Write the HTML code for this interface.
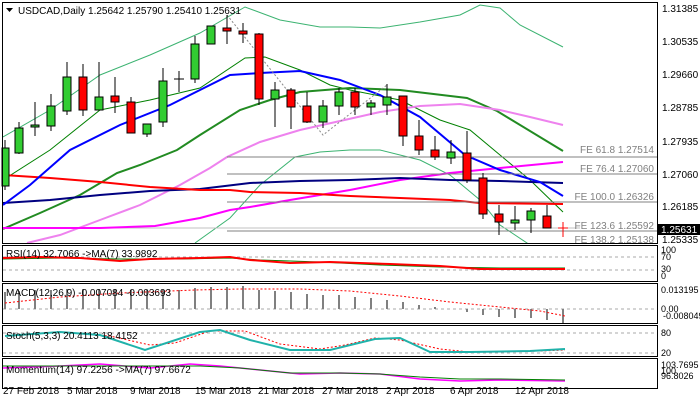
<!DOCTYPE html><html><head><meta charset="utf-8"><style>body{margin:0;background:#fff}svg{display:block;font-family:"Liberation Sans",sans-serif;font-size:10px}</style></head><body>
<svg width="700" height="400" viewBox="0 0 700 400" xmlns="http://www.w3.org/2000/svg">
<rect width="700" height="400" fill="#fff"/>
<defs><clipPath id="m"><rect x="3" y="3" width="654" height="240"/></clipPath></defs>
<g clip-path="url(#m)" fill="none">
<polyline stroke="#3cb371" stroke-width="1" points="3,137 50,110 100,75 150,55 200,33 245,7 280,20 320,27 350,27 380,28 420,22 460,15 480,5 500,8 520,25 563,47"/>
<polyline stroke="#008000" stroke-width="1" points="3,180 50,150 100,110 150,100 200,88 245,58 265,57 300,70 330,85 350,90 400,100 440,120 470,130 500,155 530,180 563,212"/>
<polyline stroke="#3cb371" stroke-width="1" points="195,243 230,218 260,185 295,157 320,152 350,150 380,150 420,160 450,175 480,200 500,225 530,245"/>
<line x1="60" y1="228" x2="580" y2="228" stroke="#c0c0c0"/>
<polyline stroke="#228b22" stroke-width="2" points="3,229 40,213 80,195 117,173 140,165 177,150 200,135 240,110 270,100 300,92 350,88 400,90 467,98 497,111 563,151"/>
<polyline stroke="#ee82ee" stroke-width="2" points="27,243 60,235 100,220 140,205 180,185 210,168 227,157 260,142 300,130 340,121 380,112 420,106 460,104 500,110 530,117 563,125"/>
<polyline stroke="#ff00ff" stroke-width="2" points="3,228 100,228 155,226 200,218 230,210 250,207 290,200 350,190 400,180 450,173 500,168 563,162"/>
<polyline stroke="#000080" stroke-width="2" points="3,203 50,200 100,195 150,191 200,189 250,183 300,181 350,180 400,178 450,180 500,181 563,183"/>
<polyline stroke="#ff0000" stroke-width="2" points="3,175 50,178 100,182 150,187 200,190 230,190 250,192 300,193 350,196 400,198 450,200 480,203 563,204"/>
<polyline stroke="#0000ff" stroke-width="2" points="3,205 30,185 70,150 120,125 170,105 230,75 260,73 300,71 340,80 380,95 420,117 465,155 500,170 540,182 563,196"/>
<polyline stroke="#888" stroke-dasharray="2,2" points="227,15 323,135 387,85"/>
<g stroke="#808080"><line x1="227" y1="157" x2="657" y2="157"/><line x1="227" y1="174" x2="657" y2="174"/><line x1="227" y1="202" x2="657" y2="202"/><line x1="227" y1="231" x2="657" y2="231"/></g>
</g>
<g fill="#808080" text-anchor="end"><text x="654" y="153">FE 61.8 1.27514</text><text x="654" y="172">FE 76.4 1.27060</text><text x="654" y="200">FE 100.0 1.26326</text><text x="654" y="229">FE 123.6 1.25592</text><text x="654" y="243">FE 138.2 1.25138</text></g>
<g stroke="#000" stroke-width="1">
<line x1="5" y1="140" x2="5" y2="190"/><rect x="2" y="148" width="7" height="38" fill="#32cd32"/>
<line x1="19" y1="122" x2="19" y2="154"/><rect x="15" y="128" width="8" height="25" fill="#32cd32"/>
<line x1="35" y1="102" x2="35" y2="136"/><rect x="31" y="125" width="8" height="2" fill="#32cd32"/>
<line x1="51" y1="94" x2="51" y2="131"/><rect x="47" y="106" width="8" height="20" fill="#32cd32"/>
<line x1="67" y1="62" x2="67" y2="115"/><rect x="63" y="77" width="8" height="34" fill="#32cd32"/>
<line x1="83" y1="64" x2="83" y2="116"/><rect x="79" y="77" width="8" height="33" fill="#ff0000"/>
<line x1="99" y1="62" x2="99" y2="110"/><rect x="95" y="97" width="8" height="13" fill="#32cd32"/>
<line x1="115" y1="77" x2="115" y2="113"/><rect x="111" y="96" width="8" height="6" fill="#ff0000"/>
<line x1="131" y1="97" x2="131" y2="133"/><rect x="127" y="102" width="8" height="31" fill="#ff0000"/>
<line x1="147" y1="124" x2="147" y2="137"/><rect x="143" y="124" width="8" height="10" fill="#32cd32"/>
<line x1="163" y1="68" x2="163" y2="127"/><rect x="159" y="81" width="8" height="41" fill="#32cd32"/>
<line x1="179" y1="71" x2="179" y2="92"/><line x1="174" y1="79" x2="184" y2="79"/>
<line x1="195" y1="36" x2="195" y2="83"/><rect x="191" y="44" width="8" height="35" fill="#32cd32"/>
<line x1="211" y1="26" x2="211" y2="44"/><rect x="207" y="26" width="8" height="18" fill="#32cd32"/>
<line x1="227" y1="15" x2="227" y2="44"/><rect x="223" y="28" width="8" height="3" fill="#ff0000"/>
<line x1="243" y1="23" x2="243" y2="43"/><rect x="239" y="31" width="8" height="3" fill="#ff0000"/>
<line x1="259" y1="33" x2="259" y2="105"/><rect x="255" y="34" width="8" height="65" fill="#ff0000"/>
<line x1="275" y1="82" x2="275" y2="127"/><rect x="271" y="90" width="8" height="9" fill="#32cd32"/>
<line x1="291" y1="88" x2="291" y2="129"/><rect x="287" y="90" width="8" height="17" fill="#ff0000"/>
<line x1="307" y1="92" x2="307" y2="123"/><rect x="303" y="106" width="8" height="16" fill="#ff0000"/>
<line x1="323" y1="100" x2="323" y2="128"/><rect x="319" y="106" width="8" height="16" fill="#32cd32"/>
<line x1="339" y1="88" x2="339" y2="115"/><rect x="335" y="92" width="8" height="14" fill="#32cd32"/>
<line x1="355" y1="88" x2="355" y2="115"/><rect x="351" y="92" width="8" height="15" fill="#ff0000"/>
<line x1="371" y1="100" x2="371" y2="115"/><rect x="367" y="103" width="8" height="4" fill="#32cd32"/>
<line x1="387" y1="84" x2="387" y2="115"/><rect x="383" y="97" width="8" height="8" fill="#32cd32"/>
<line x1="403" y1="96" x2="403" y2="146"/><rect x="399" y="96" width="8" height="40" fill="#ff0000"/>
<line x1="419" y1="120" x2="419" y2="155"/><rect x="415" y="136" width="8" height="14" fill="#ff0000"/>
<line x1="435" y1="136" x2="435" y2="160"/><rect x="431" y="150" width="8" height="7" fill="#ff0000"/>
<line x1="451" y1="140" x2="451" y2="164"/><rect x="447" y="152" width="8" height="6" fill="#32cd32"/>
<line x1="467" y1="131" x2="467" y2="183"/><rect x="463" y="153" width="8" height="27" fill="#ff0000"/>
<line x1="483" y1="173" x2="483" y2="219"/><rect x="479" y="178" width="8" height="36" fill="#ff0000"/>
<line x1="499" y1="205" x2="499" y2="235"/><rect x="495" y="214" width="8" height="8" fill="#ff0000"/>
<line x1="515" y1="206" x2="515" y2="230"/><rect x="511" y="220" width="8" height="3" fill="#32cd32"/>
<line x1="531" y1="208" x2="531" y2="233"/><rect x="527" y="211" width="8" height="9" fill="#32cd32"/>
<line x1="547" y1="205" x2="547" y2="228"/><rect x="543" y="216" width="8" height="12" fill="#ff0000"/>
<g stroke="#ff0000"><line x1="563" y1="222" x2="563" y2="237"/><line x1="558" y1="228" x2="568" y2="228"/></g>
</g>
<path d="M6 8h7l-3.5 4z" fill="#000"/>
<text x="18" y="14" fill="#000">USDCAD,Daily  1.25642 1.25790 1.25410 1.25631</text>
<g fill="none" stroke="#000"><rect x="2.5" y="2.5" width="655" height="241"/><rect x="2.5" y="245.5" width="655" height="36"/><rect x="2.5" y="283.5" width="655" height="40"/><rect x="2.5" y="325.5" width="655" height="31"/><rect x="2.5" y="358.5" width="655" height="30"/></g>
<g fill="#000"><text x="662" y="12">1.31385</text><text x="662" y="45">1.30535</text><text x="662" y="78">1.29660</text><text x="662" y="111">1.28785</text><text x="662" y="145">1.27935</text><text x="662" y="178">1.27060</text><text x="662" y="210">1.26185</text><text x="662" y="243">1.25335</text></g>
<rect x="657" y="224" width="43" height="11" fill="#000"/><text x="661" y="233" fill="#fff">1.25631</text>
<g stroke="#aaa" stroke-dasharray="3,3"><line x1="3" y1="257" x2="657" y2="257"/><line x1="3" y1="270" x2="657" y2="270"/><line x1="3" y1="309" x2="657" y2="309"/><line x1="3" y1="333" x2="657" y2="333"/><line x1="3" y1="353" x2="657" y2="353"/></g>
<polyline fill="none" stroke="#008000" stroke-width="1" points="3,259 60,258 120,259 180,259 230,258 260,260 320,262 380,265 440,267 500,268 565,268"/>
<polyline fill="none" stroke="#ff0000" stroke-width="2" points="3,258 40,257 80,258 120,261 150,259 200,258 230,257 250,260 290,263 330,262 390,264 440,266 480,269 520,269 565,269"/>
<text x="6" y="257">RSI(14) 32.7066 -&gt;MA(7) 33.9892</text>
<g font-size="9"><text x="661" y="253">100</text><text x="661" y="260">70</text><text x="661" y="272">30</text><text x="661" y="279">0</text></g>
<g stroke="#808080" stroke-width="2">
<line x1="5" y1="309" x2="5" y2="292"/><line x1="19" y1="309" x2="19" y2="291"/><line x1="35" y1="309" x2="35" y2="290"/><line x1="51" y1="309" x2="51" y2="290"/><line x1="67" y1="309" x2="67" y2="289"/><line x1="83" y1="309" x2="83" y2="289"/><line x1="99" y1="309" x2="99" y2="289"/><line x1="115" y1="309" x2="115" y2="289"/><line x1="131" y1="309" x2="131" y2="290"/><line x1="147" y1="309" x2="147" y2="290"/><line x1="163" y1="309" x2="163" y2="290"/><line x1="179" y1="309" x2="179" y2="290"/><line x1="195" y1="309" x2="195" y2="288"/><line x1="211" y1="309" x2="211" y2="287"/><line x1="227" y1="309" x2="227" y2="287"/><line x1="243" y1="309" x2="243" y2="286"/><line x1="259" y1="309" x2="259" y2="290"/><line x1="275" y1="309" x2="275" y2="291"/><line x1="291" y1="309" x2="291" y2="292"/><line x1="307" y1="309" x2="307" y2="294"/><line x1="323" y1="309" x2="323" y2="295"/><line x1="339" y1="309" x2="339" y2="295"/><line x1="355" y1="309" x2="355" y2="297"/><line x1="371" y1="309" x2="371" y2="298"/><line x1="387" y1="309" x2="387" y2="300"/><line x1="403" y1="309" x2="403" y2="302"/><line x1="419" y1="309" x2="419" y2="305"/><line x1="435" y1="309" x2="435" y2="307"/><line x1="467" y1="309" x2="467" y2="312"/><line x1="483" y1="309" x2="483" y2="315"/><line x1="499" y1="309" x2="499" y2="317"/><line x1="515" y1="309" x2="515" y2="318"/><line x1="531" y1="309" x2="531" y2="318"/><line x1="547" y1="309" x2="547" y2="320"/><line x1="563" y1="309" x2="563" y2="323"/>
</g>
<polyline fill="none" stroke="#ff0000" stroke-dasharray="2,2" points="5,303 60,297 120,293 195,290 240,289 300,289 350,291 400,296 450,302 500,307 540,311 565,316"/>
<text x="6" y="296">MACD(12,26,9) -0.007084 -0.003693</text>
<g font-size="9"><text x="661" y="293">0.013195</text><text x="661" y="312">0.00</text><text x="663" y="319">-0.008049</text></g>
<polyline fill="none" stroke="#ff0000" stroke-dasharray="2,2" points="5,336 60,332 110,336 150,345 175,343 210,331 245,331 280,344 320,349 345,345 375,338 400,340 440,349 470,352 540,351 565,350"/>
<polyline fill="none" stroke="#20b2aa" stroke-width="2" points="5,336 60,332 100,335 145,350 200,332 220,330 250,340 290,350 330,350 375,339 400,338 430,352 470,352 530,351 565,349"/>
<text x="6" y="339">Stoch(5,3,3) 20.4113 18.4152</text>
<g font-size="9"><text x="661" y="336">80</text><text x="661" y="356">20</text></g>
<polyline fill="none" stroke="#ff00ff" stroke-width="1.5" points="3,368 60,366 100,364 150,368 190,364 220,366 260,370 300,374 340,373 380,374 420,379 460,381 500,380 565,381"/>
<polyline fill="none" stroke="#008000" stroke-width="1" points="3,366 60,366 120,366 200,366 240,368 290,373 340,373 380,374 420,377 460,379 500,379 565,380"/>
<text x="6" y="373">Momentum(14) 97.2256 -&gt;MA(7) 97.6672</text>
<g font-size="9"><text x="661" y="368">103.7695</text><text x="661" y="374">100</text><text x="661" y="379">96.8026</text></g>
<g fill="#000"><text x="3" y="394">27 Feb 2018</text><text x="67" y="394">5 Mar 2018</text><text x="130" y="394">9 Mar 2018</text><text x="195" y="394">15 Mar 2018</text><text x="258" y="394">21 Mar 2018</text><text x="322" y="394">27 Mar 2018</text><text x="386" y="394">2 Apr 2018</text><text x="450" y="394">6 Apr 2018</text><text x="515" y="394">12 Apr 2018</text></g>
</svg></body></html>
